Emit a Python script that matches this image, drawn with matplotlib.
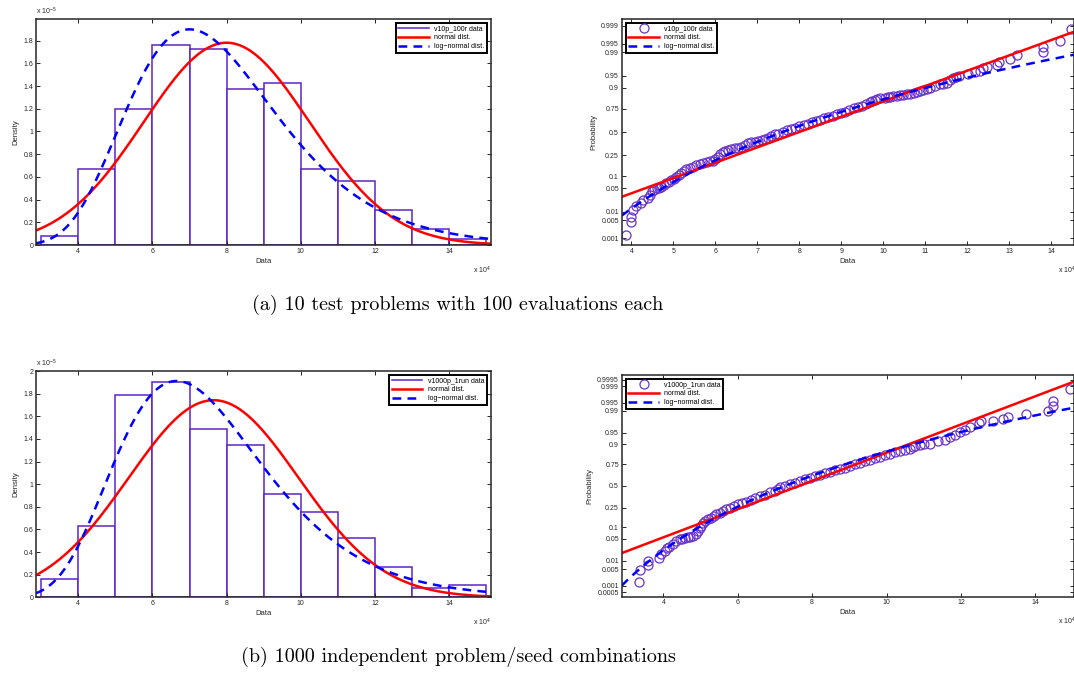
import numpy as np
import matplotlib
matplotlib.use('Agg')
import matplotlib.pyplot as plt
from matplotlib.lines import Line2D
from statistics import NormalDist

plt.rcParams['font.family'] = ['Liberation Sans', 'DejaVu Sans']
plt.rcParams['mathtext.default'] = 'regular'

# histogram: bin edges in 1e4, density in 1e-5
bin_edges = [3, 4, 5, 6, 7, 8, 9, 10, 11, 12, 13, 14, 15]
dens_a = [0.08, 0.67, 1.20, 1.76, 1.73, 1.37, 1.43, 0.67, 0.56, 0.31, 0.14, 0.05]
dens_b = [0.16, 0.63, 1.79, 1.90, 1.49, 1.35, 0.91, 0.75, 0.52, 0.27, 0.08, 0.11]

# fitted distributions (normal: mean, std ; log-normal: mu, sigma of log)
norm_a = (8.0e4, 2.24e4)
logn_a = (11.239, 0.288)
norm_b = (7.65e4, 2.29e4)
logn_b = (11.195, 0.300)

# probability plot points: data (1e4) and plotted probability
pp_x_a = [3.88, 3.99, 4.00, 4.03, 4.10, 4.24, 4.27, 4.40, 4.44, 4.50,
          4.60, 4.71, 4.83, 4.95, 5.07, 5.19, 5.31, 5.47, 5.63, 5.79,
          5.95, 6.06, 6.18, 6.30, 6.46, 6.62, 6.78, 6.94, 7.10, 7.25,
          7.41, 7.50, 7.70, 7.90, 8.10, 8.30, 8.49, 8.69, 8.89, 9.09,
          9.29, 9.49, 9.68, 9.80, 9.92, 10.04, 10.16, 10.32, 10.48, 10.64,
          10.80, 10.95, 11.11, 11.35, 11.51, 11.67, 11.79, 12.02, 12.18, 12.30,
          12.38, 12.46, 12.70, 12.76, 13.02, 13.18, 13.80, 13.80, 14.21, 14.46,
          # dense middle band
          4.55, 4.66, 4.77, 4.89, 5.01, 5.13, 5.25, 5.39, 5.55, 5.71,
          5.87, 6.00, 6.12, 6.24, 6.38, 6.54, 6.70, 6.86, 7.02, 7.18,
          7.33, 7.60, 7.80, 8.00, 8.20, 8.40, 8.59, 8.79, 8.99, 9.19,
          9.39, 9.59, 9.74, 9.86, 10.10, 10.24, 10.40, 10.56, 10.72, 10.88,
          11.03, 11.23, 11.43, 11.59, 11.73]
pp_p_a = [0.0014, 0.0044, 0.0068, 0.0116, 0.0154, 0.0188, 0.0239, 0.0274, 0.033, 0.043,
          0.050, 0.056, 0.067, 0.081, 0.093, 0.115, 0.140, 0.156, 0.174, 0.193,
          0.199, 0.236, 0.284, 0.300, 0.316, 0.334, 0.371, 0.389, 0.409, 0.433,
          0.473, 0.480, 0.523, 0.550, 0.580, 0.611, 0.637, 0.669, 0.698, 0.723,
          0.755, 0.779, 0.807, 0.822, 0.836, 0.841, 0.848, 0.853, 0.860, 0.868,
          0.879, 0.889, 0.902, 0.918, 0.925, 0.942, 0.949, 0.954, 0.959, 0.962,
          0.969, 0.971, 0.974, 0.979, 0.983, 0.9875, 0.9904, 0.9934, 0.996, 0.9987,
          0.046, 0.053, 0.061, 0.074, 0.087, 0.104, 0.127, 0.148, 0.165, 0.184,
          0.196, 0.215, 0.262, 0.294, 0.308, 0.325, 0.352, 0.380, 0.399, 0.421,
          0.452, 0.502, 0.537, 0.565, 0.596, 0.624, 0.653, 0.684, 0.711, 0.740,
          0.767, 0.793, 0.815, 0.829, 0.845, 0.850, 0.857, 0.864, 0.873, 0.884,
          0.895, 0.910, 0.921, 0.934, 0.946]

pp_x_b = [3.34, 3.37, 3.59, 3.59, 3.88, 3.95, 4.04, 4.11, 4.26, 4.44,
          4.58, 4.71, 4.89, 4.93, 5.02, 5.13, 5.27, 5.42, 5.60, 5.78,
          6.01, 6.23, 6.46, 6.73, 6.87, 6.99, 7.14, 7.41, 7.67, 7.94,
          8.21, 8.48, 8.75, 9.02, 9.28, 9.55, 9.83, 10.09, 10.36, 10.63,
          10.77, 11.01, 11.17, 11.39, 11.57, 11.71, 11.84, 11.98, 12.11, 12.24,
          12.49, 12.53, 12.85, 13.14, 13.26, 13.75, 14.35, 14.47, 14.47, 14.93,
          # dense middle band
          4.15, 4.35, 4.51, 4.65, 4.80, 4.98, 5.07, 5.20, 5.35, 5.51,
          5.69, 5.90, 6.12, 6.35, 6.60, 7.07, 7.28, 7.54, 7.81, 8.08,
          8.35, 8.62, 8.89, 9.15, 9.42, 9.69, 9.96, 10.23, 10.50, 10.70,
          10.90]
pp_p_b = [0.0015, 0.0044, 0.0071, 0.0099, 0.0129, 0.018, 0.0217, 0.0277, 0.0367, 0.0487,
          0.054, 0.058, 0.067, 0.081, 0.107, 0.138, 0.163, 0.189, 0.218, 0.251,
          0.284, 0.312, 0.352, 0.390, 0.425, 0.438, 0.480, 0.520, 0.562, 0.595,
          0.633, 0.670, 0.698, 0.732, 0.765, 0.788, 0.816, 0.837, 0.862, 0.873,
          0.893, 0.903, 0.905, 0.916, 0.922, 0.933, 0.942, 0.951, 0.958, 0.966,
          0.975, 0.977, 0.978, 0.981, 0.984, 0.987, 0.990, 0.993, 0.9956, 0.9986,
          0.030, 0.043, 0.051, 0.056, 0.062, 0.094, 0.122, 0.150, 0.176, 0.203,
          0.234, 0.268, 0.298, 0.332, 0.371, 0.459, 0.500, 0.541, 0.579, 0.614,
          0.652, 0.684, 0.715, 0.749, 0.777, 0.802, 0.827, 0.850, 0.868, 0.883,
          0.898]

prob_ticks_a = [0.001, 0.005, 0.01, 0.05, 0.1, 0.25, 0.5, 0.75, 0.9, 0.95, 0.99, 0.995, 0.999]
prob_ticks_b = [0.0005, 0.001, 0.005, 0.01, 0.05, 0.1, 0.25, 0.5, 0.75, 0.9, 0.95, 0.99,
                0.995, 0.999, 0.9995]

captions = ['(a) 10 test problems with 100 evaluations each',
            '(b) 1000 independent problem/seed combinations']
labels = ['v10p_100r data', 'v1000p_1run data']

PURPLE = '#5b25c6'
MARK = '#6a35c8'
TXT = '#262626'
FS = 5

std_norm = NormalDist()
_ppf = np.vectorize(std_norm.inv_cdf, otypes=[float])
_cdf = np.vectorize(std_norm.cdf, otypes=[float])


def p_to_z(p):
    return _ppf(np.clip(np.asarray(p, float), 1e-12, 1 - 1e-12))


def z_to_p(z):
    return _cdf(np.asarray(z, float))


def norm_pdf(x, prm):
    d = NormalDist(*prm)
    return np.array([d.pdf(v) for v in x])


def logn_pdf(x, prm):
    d = NormalDist(*prm)
    return np.array([d.pdf(np.log(v)) / v for v in x])


def norm_cdf(x, prm):
    d = NormalDist(*prm)
    return np.array([d.cdf(v) for v in x])


def logn_cdf(x, prm):
    d = NormalDist(*prm)
    return np.array([d.cdf(np.log(v)) for v in x])


def style(ax):
    for s in ax.spines.values():
        s.set_linewidth(1.1)
        s.set_color(TXT)
    ax.tick_params(direction='in', top=True, right=True, length=3, width=0.7,
                   labelsize=FS, colors=TXT, pad=2)
    ax.set_xlabel('Data', fontsize=FS + 0.5, color=TXT, labelpad=2)


def legend(ax, handles, names, loc):
    leg = ax.legend(handles, names, loc=loc, fontsize=FS, fancybox=False,
                    framealpha=1, edgecolor='black', handlelength=4.4,
                    borderaxespad=0.6, borderpad=0.35, labelspacing=0.25,
                    handletextpad=0.8)
    leg.get_frame().set_linewidth(1.4)


def hist_panel(ax, dens, nprm, lprm, name):
    edges = np.array(bin_edges, float)
    ax.bar(edges[:-1], dens, width=np.diff(edges), align='edge',
           facecolor='white', edgecolor=PURPLE, linewidth=1.1)
    xs = np.linspace(2.86, 15.13, 400)
    ax.plot(xs, norm_pdf(xs * 1e4, nprm) * 1e5, color='red', lw=1.8)
    ax.plot(xs, logn_pdf(xs * 1e4, lprm) * 1e5, color='blue', lw=1.8,
            dashes=(3.5, 2.5))
    ax.set_xlim(2.86, 15.13)
    ax.set_xticks([4, 6, 8, 10, 12, 14])
    style(ax)
    ax.set_ylabel('Density', fontsize=FS + 0.5, color=TXT, labelpad=3)
    ax.text(0.0, 1.035, 'x 10$^{-5}$', transform=ax.transAxes, fontsize=FS,
            color=TXT, ha='left', va='center')
    ax.text(1.0, -0.085, 'x 10$^{4}$', transform=ax.transAxes, fontsize=FS,
            color=TXT, ha='right', va='top')
    hs = [Line2D([], [], color=PURPLE, lw=1.1),
          Line2D([], [], color='red', lw=1.8),
          Line2D([], [], color='blue', lw=1.8, dashes=(3.5, 2.5))]
    legend(ax, hs, [name, 'normal dist.', 'log\u2212normal dist.'], 'upper right')


def prob_panel(ax, px, pp, nprm, lprm, xlim, ylim, ticks, xticks, name):
    ax.set_yscale('function', functions=(p_to_z, z_to_p))
    ax.plot(px, pp, 'o', mfc='none', mec=MARK, ms=6.5, mew=0.9)
    xs = np.linspace(xlim[0], xlim[1], 300)
    ax.plot(xs, norm_cdf(xs * 1e4, nprm), color='red', lw=1.8)
    ax.plot(xs, logn_cdf(xs * 1e4, lprm), color='blue', lw=1.8, dashes=(3.5, 2.5))
    ax.set_xlim(*xlim)
    ax.set_ylim(*ylim)
    ax.set_yticks(ticks)
    ax.set_yticklabels([('%g' % t) for t in ticks])
    ax.yaxis.set_minor_locator(matplotlib.ticker.NullLocator())
    ax.set_xticks(xticks)
    style(ax)
    ax.set_ylabel('Probability', fontsize=FS + 0.5, color=TXT, labelpad=3)
    ax.text(0.965, -0.085, 'x 10$^{4}$', transform=ax.transAxes, fontsize=FS,
            color=TXT, ha='left', va='top')
    hs = [Line2D([], [], ls='none', marker='o', mfc='none', mec=MARK, ms=6.5, mew=0.9),
          Line2D([], [], color='red', lw=1.8),
          Line2D([], [], color='blue', lw=1.8, dashes=(3.5, 2.5))]
    legend(ax, hs, [name, 'normal dist.', 'log\u2212normal dist.'], 'upper left')


fig = plt.figure(figsize=(10.74, 6.75), dpi=100)
W, H = 1074.0, 675.0


def box(l, t, r, b):
    return [l / W, 1 - b / H, (r - l) / W, (b - t) / H]


ax1 = fig.add_axes(box(36, 19, 491, 245))
ax2 = fig.add_axes(box(621.7, 19, 1074, 245))
ax3 = fig.add_axes(box(36, 371, 491, 597.3))
ax4 = fig.add_axes(box(621.7, 375, 1074, 596.7))

hist_panel(ax1, dens_a, norm_a, logn_a, labels[0])
ax1.set_ylim(0, 1.99)
ax1.set_yticks([0, 0.2, 0.4, 0.6, 0.8, 1, 1.2, 1.4, 1.6, 1.8])
ax1.set_yticklabels(['0', '0.2', '0.4', '0.6', '0.8', '1', '1.2', '1.4', '1.6', '1.8'])

hist_panel(ax3, dens_b, norm_b, logn_b, labels[1])
ax3.set_ylim(0, 2)
ax3.set_yticks([0, 0.2, 0.4, 0.6, 0.8, 1, 1.2, 1.4, 1.6, 1.8, 2])
ax3.set_yticklabels(['0', '0.2', '0.4', '0.6', '0.8', '1', '1.2', '1.4', '1.6', '1.8', '2'])

prob_panel(ax2, pp_x_a, pp_p_a, norm_a, logn_a, (3.77, 14.54), (0.0005, 0.9995),
           prob_ticks_a, list(range(4, 15)), labels[0])
prob_panel(ax4, pp_x_b, pp_p_b, norm_b, logn_b, (2.88, 15.04), (0.0003, 0.9997),
           prob_ticks_b, [4, 6, 8, 10, 12, 14], labels[1])

fig.text(458 / W, 1 - 305 / H, captions[0], family='cmr10', fontsize=14.5,
         ha='center', va='center')
fig.text(458 / W, 1 - 657 / H, captions[1], family='cmr10', fontsize=14.5,
         ha='center', va='center')

fig.savefig('out.png', dpi=100)
